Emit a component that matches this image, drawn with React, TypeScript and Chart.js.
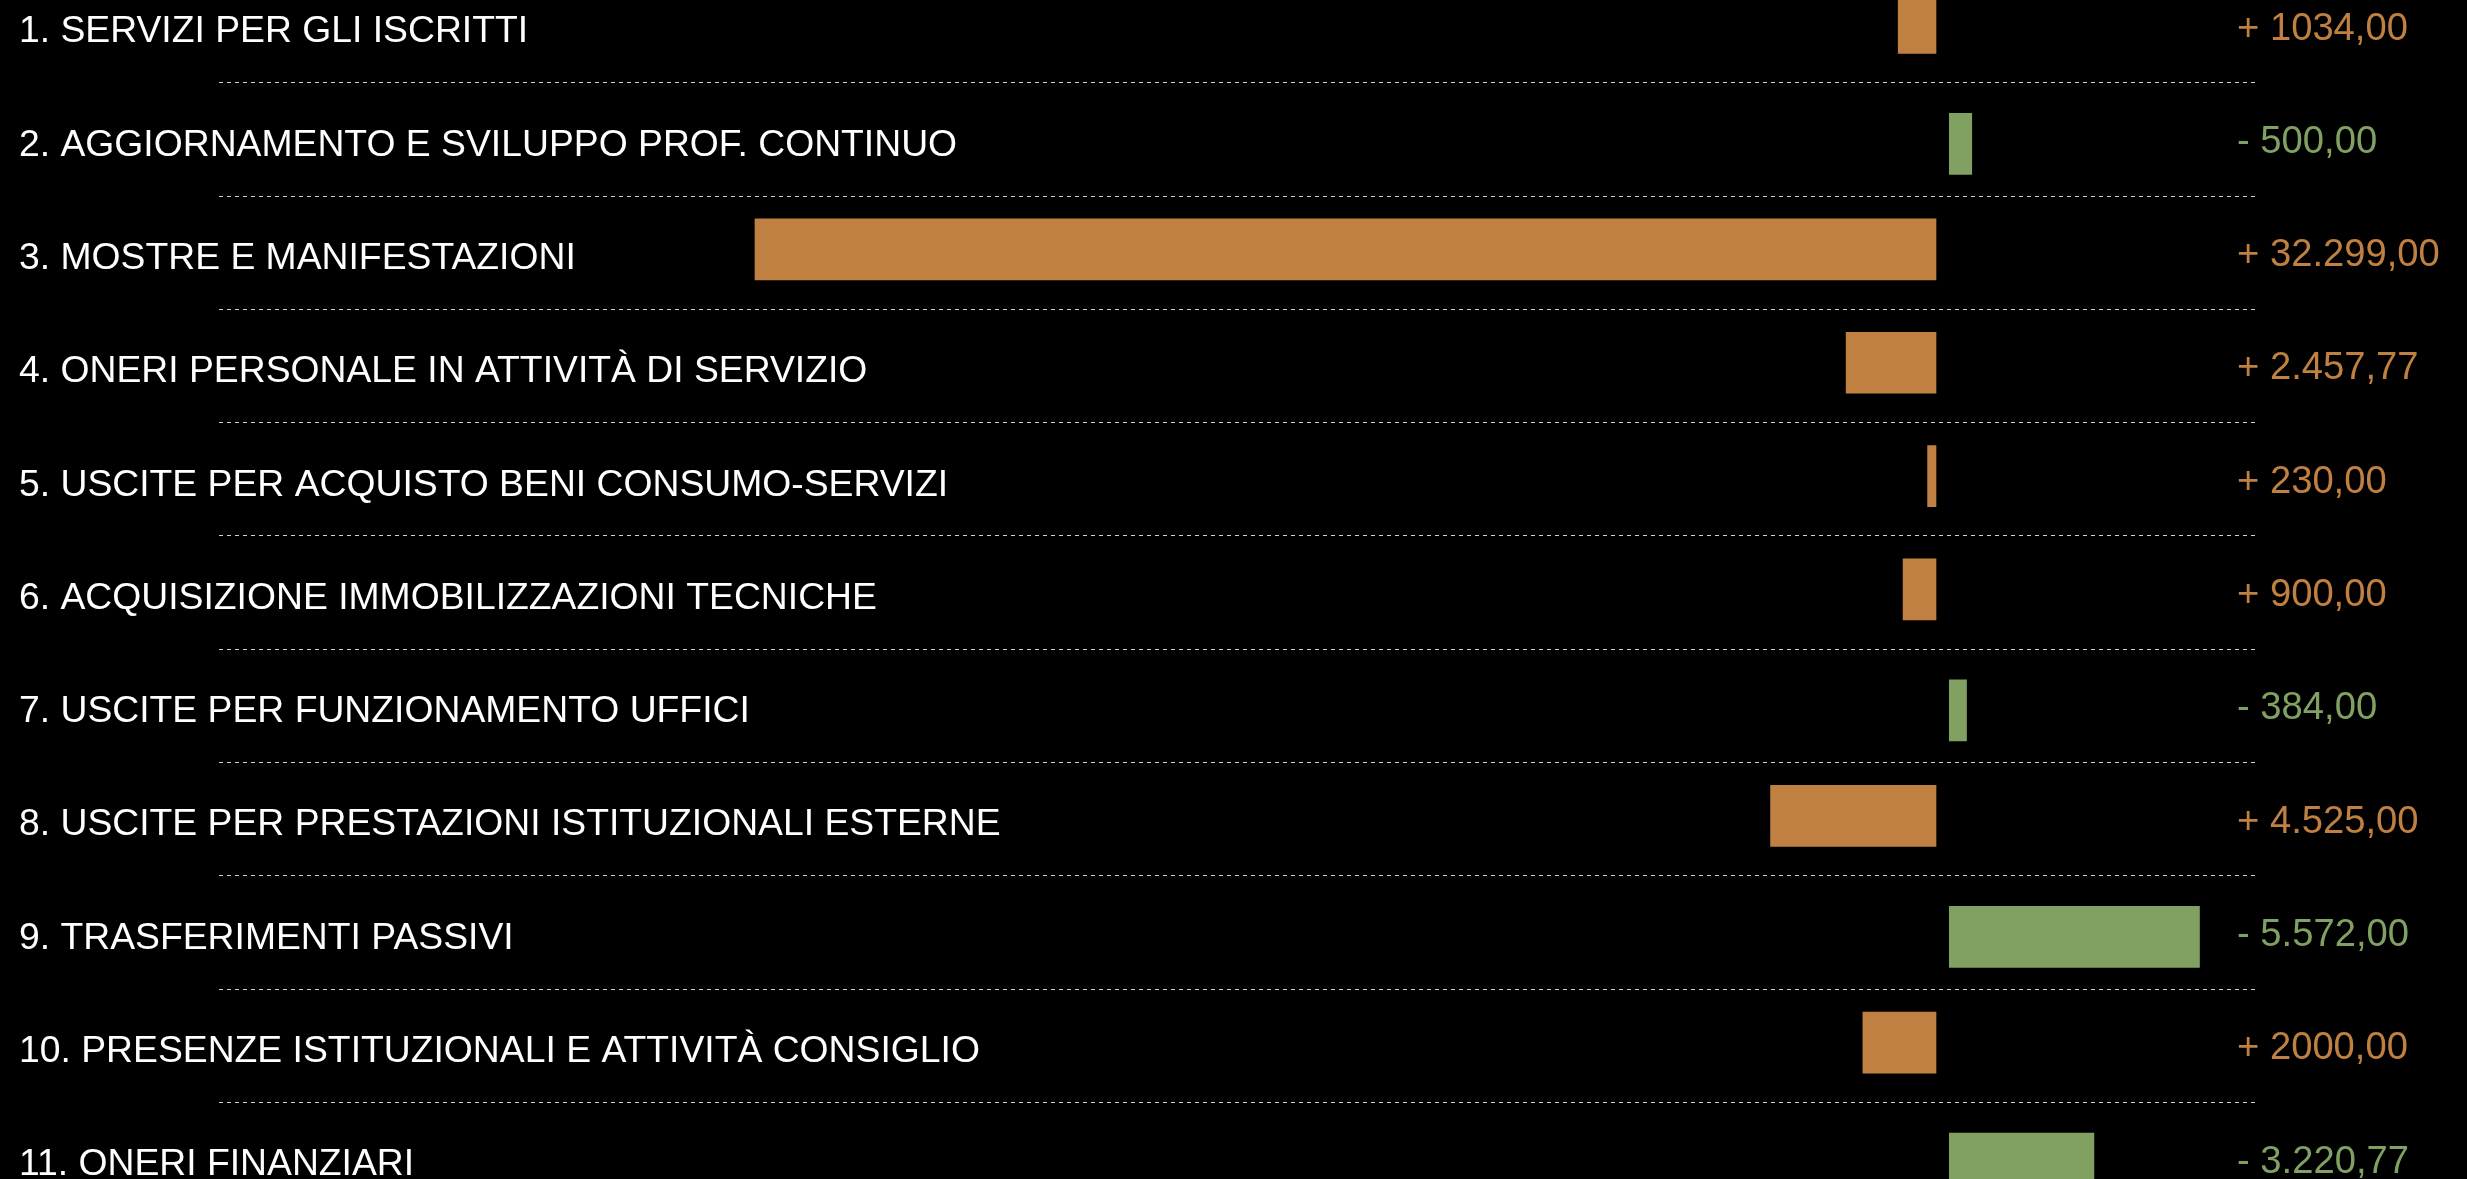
import React, { useEffect, useRef } from "react";
import { Chart, registerables } from "chart.js";

Chart.register(...registerables);

// ---------- data ----------
const categories: string[] = [
  "1. SERVIZI PER GLI ISCRITTI",
  "2. AGGIORNAMENTO E SVILUPPO PROF. CONTINUO",
  "3. MOSTRE E MANIFESTAZIONI",
  "4. ONERI PERSONALE IN ATTIVITÀ DI SERVIZIO",
  "5. USCITE PER ACQUISTO BENI CONSUMO-SERVIZI",
  "6. ACQUISIZIONE IMMOBILIZZAZIONI TECNICHE",
  "7. USCITE PER FUNZIONAMENTO UFFICI",
  "8. USCITE PER PRESTAZIONI ISTITUZIONALI ESTERNE",
  "9. TRASFERIMENTI PASSIVI",
  "10. PRESENZE ISTITUZIONALI E ATTIVITÀ CONSIGLIO",
  "11. ONERI FINANZIARI",
];

// variation of each budget item (+ increase, - decrease)
const variations: number[] = [
  1034, -500, 32299, 2457.77, 230, 900, -384, 4525, -5572, 2000, -3220.77,
];

// value labels exactly as printed in the reference
const valueLabels: string[] = [
  "+ 1034,00",
  "- 500,00",
  "+ 32.299,00",
  "+ 2.457,77",
  "+ 230,00",
  "+ 900,00",
  "- 384,00",
  "+ 4.525,00",
  "- 5.572,00",
  "+ 2000,00",
  "- 3.220,77",
];

// ---------- styles / layout ----------
const ORANGE = "#BF8042";
const GREEN = "#80A162";
const FONT = '"Liberation Sans", Arial, sans-serif';

const CANVAS_W = 2467;
const CANVAS_H = 1310;
const CANVAS_TOP = -60; // canvas is shifted up; top/bottom rows are cut like in the reference

const PAD_LEFT = 19;
const LABEL_W = 200;
const VALUE_W = 208;
const AREA_LEFT = PAD_LEFT + LABEL_W;
const AREA_RIGHT = CANVAS_W - VALUE_W;
const AREA_W = AREA_RIGHT - AREA_LEFT;
const VALUE_TEXT_X = 2237;

const ROW = 113.3;
const FIRST_SEPARATOR_PAGE_Y = 82.7;
const PAD_TOP = FIRST_SEPARATOR_PAGE_Y - ROW - CANVAS_TOP;
const PAD_BOTTOM = CANVAS_H - PAD_TOP - ROW * categories.length;

// horizontal scale geometry (pixels per euro on each side)
const ORANGE_ZERO_X = 1936;
const ORANGE_PX_PER_EURO = 0.036565;
const GREEN_ZERO_X = 1949.3;
const GREEN_PX_PER_EURO = 0.0449;

const ORANGE_MIN = -(AREA_RIGHT - ORANGE_ZERO_X) / ORANGE_PX_PER_EURO;
const ORANGE_MAX = ORANGE_MIN + AREA_W / ORANGE_PX_PER_EURO;
const GREEN_MIN = -(GREEN_ZERO_X - AREA_LEFT) / GREEN_PX_PER_EURO;
const GREEN_MAX = GREEN_MIN + AREA_W / GREEN_PX_PER_EURO;

const ORANGE_SHIFT = 3.2 / ROW; // orange bars sit slightly above the row middle
const GREEN_SHIFT = -4.5 / ROW; // green bars sit slightly below

const N = categories.length;

const rowTicks = (s: any) => {
  s.ticks = categories.map((_, i) => ({ value: i + 1 }));
};
const rowIndex = (v: any) => Math.round(Number(v)) - 1;
const zeroPadding = (s: any) => {
  s.paddingTop = 0;
  s.paddingBottom = 0;
  s.paddingLeft = 0;
  s.paddingRight = 0;
};

export default function App() {
  const ref = useRef<HTMLCanvasElement | null>(null);

  useEffect(() => {
    if (!ref.current) return;
    document.body.style.background = "#000";

    const increases = variations.flatMap((v, i) => (v > 0 ? [{ x: v, y: i + 1 }] : []));
    const decreases = variations.flatMap((v, i) => (v < 0 ? [{ x: -v, y: i + 1 }] : []));

    const chart = new Chart(ref.current, {
      type: "bar",
      data: {
        datasets: [
          {
            label: "Aumenti",
            data: increases as any,
            xAxisID: "xo",
            yAxisID: "yo",
            backgroundColor: ORANGE,
            borderWidth: 0,
            barThickness: 61,
            grouped: false,
          },
          {
            label: "Diminuzioni",
            data: decreases as any,
            xAxisID: "xg",
            yAxisID: "yg",
            backgroundColor: GREEN,
            borderWidth: 0,
            barThickness: 61,
            grouped: false,
          },
        ],
      },
      options: {
        indexAxis: "y",
        responsive: false,
        animation: false,
        devicePixelRatio: 1,
        layout: {
          padding: { left: PAD_LEFT, right: VALUE_W, top: PAD_TOP, bottom: PAD_BOTTOM },
        },
        plugins: {
          legend: { display: false },
          tooltip: { enabled: false },
        },
        scales: {
          xo: {
            type: "linear",
            axis: "x",
            display: false,
            reverse: true,
            bounds: "data",
            min: ORANGE_MIN,
            max: ORANGE_MAX,
          },
          xg: {
            type: "linear",
            axis: "x",
            display: false,
            bounds: "data",
            min: GREEN_MIN,
            max: GREEN_MAX,
          },
          yo: {
            type: "linear",
            axis: "y",
            display: false,
            reverse: true,
            offset: false,
            bounds: "data",
            min: 0.5 + ORANGE_SHIFT,
            max: N + 0.5 + ORANGE_SHIFT,
            ticks: { stepSize: 1 },
          },
          yg: {
            type: "linear",
            axis: "y",
            display: false,
            reverse: true,
            offset: false,
            bounds: "data",
            min: 0.5 + GREEN_SHIFT,
            max: N + 0.5 + GREEN_SHIFT,
            ticks: { stepSize: 1 },
          },
          // category labels + dotted separators
          y: {
            type: "linear",
            axis: "y",
            position: "left",
            weight: 10,
            reverse: true,
            offset: false,
            bounds: "data",
            min: 0.5,
            max: N + 0.5,
            afterBuildTicks: rowTicks,
            afterFit: (s: any) => {
              s.width = LABEL_W;
              zeroPadding(s);
            },
            grid: {
              display: true,
              offset: true,
              drawTicks: false,
              color: "#cfcfcf",
              lineWidth: 1,
            },
            border: { display: false, dash: [4, 4] },
            ticks: {
              autoSkip: false,
              mirror: true,
              crossAlign: "near",
              padding: PAD_LEFT - AREA_LEFT,
              labelOffset: 6,
              color: "#ffffff",
              font: { family: FONT, size: 37.3 },
              callback: (v: any) => categories[rowIndex(v)] ?? "",
            },
          },
          // value labels on the right
          yv: {
            type: "linear",
            axis: "y",
            position: "left",
            weight: 0,
            reverse: true,
            offset: false,
            bounds: "data",
            min: 0.5,
            max: N + 0.5,
            afterBuildTicks: rowTicks,
            afterFit: (s: any) => {
              s.width = 0;
              zeroPadding(s);
            },
            grid: { display: false, drawTicks: false },
            border: { display: false },
            ticks: {
              autoSkip: false,
              mirror: true,
              crossAlign: "near",
              padding: VALUE_TEXT_X - AREA_LEFT,
              labelOffset: 3,
              color: (ctx: any) => (variations[ctx.index] >= 0 ? ORANGE : GREEN),
              font: { family: FONT, size: 38.2 },
              callback: (v: any) => valueLabels[rowIndex(v)] ?? "",
            },
          },
        } as any,
      },
    });

    return () => chart.destroy();
  }, []);

  return (
    <div
      style={{
        position: "fixed",
        left: 0,
        top: 0,
        width: CANVAS_W,
        height: 1179,
        overflow: "hidden",
        background: "#000",
      }}
    >
      <canvas
        ref={ref}
        width={CANVAS_W}
        height={CANVAS_H}
        style={{
          position: "absolute",
          left: 0,
          top: CANVAS_TOP,
          width: CANVAS_W,
          height: CANVAS_H,
          display: "block",
        }}
      />
    </div>
  );
}
